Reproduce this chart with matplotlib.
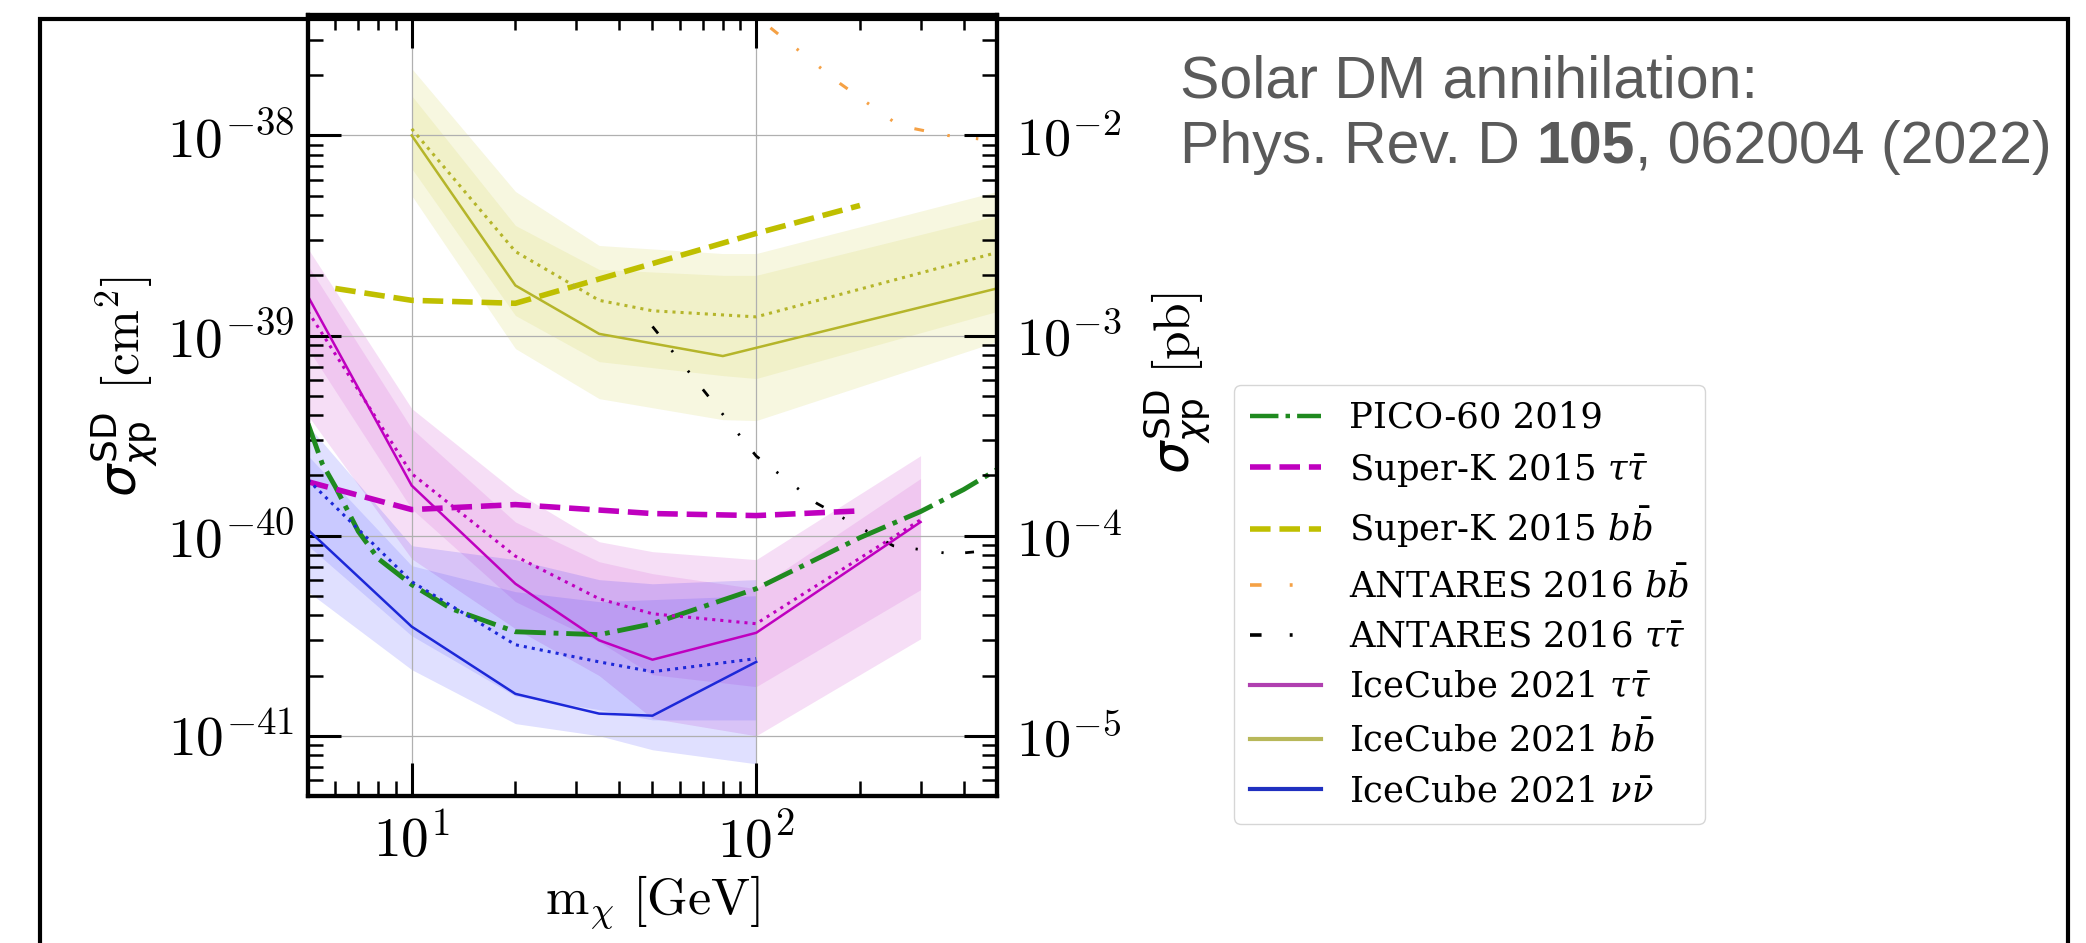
import numpy as np
import matplotlib
matplotlib.use('Agg')
import matplotlib.pyplot as plt
from matplotlib import ticker
from matplotlib.lines import Line2D
from matplotlib.patches import Rectangle

plt.rcParams['mathtext.fontset'] = 'cm'

# IceCube 2021, b bbar: limit (solid), sensitivity (dotted), 1/2 sigma bands
ic_bb_m = [10, 20, 35, 80, 500]
ic_bb_lim = [1.0e-38, 1.78e-39, 1.02e-39, 7.9e-40, 1.72e-39]
ic_bb_sens_m = [10, 20, 35, 50, 100, 500]
ic_bb_sens = [1.08e-38, 2.63e-39, 1.5e-39, 1.33e-39, 1.24e-39, 2.6e-39]
ic_bb_band_m = [10, 20, 35, 80, 100, 500]
ic_bb_2hi = [2.16e-38, 5.25e-39, 2.82e-39, 2.57e-39, 2.57e-39, 5.25e-39]
ic_bb_1hi = [1.58e-38, 3.55e-39, 2.14e-39, 2.0e-39, 2.0e-39, 3.98e-39]
ic_bb_1lo = [6.84e-39, 1.26e-39, 7.41e-40, 6.31e-40, 6.1e-40, 1.32e-39]
ic_bb_2lo = [5.01e-39, 8.61e-40, 4.84e-40, 3.8e-40, 3.76e-40, 9.33e-40]

# IceCube 2021, tau taubar
ic_tt_m = [5, 10, 20, 35, 50, 100, 300]
ic_tt_lim = [1.57e-39, 1.78e-40, 5.75e-41, 3.0e-41, 2.4e-41, 3.27e-41, 1.17e-40]
ic_tt_sens = [1.32e-39, 2.04e-40, 7.9e-41, 4.84e-41, 4.07e-41, 3.63e-41, 1.2e-40]
ic_tt_2hi = [2.72e-39, 4.32e-40, 1.66e-40, 9.33e-41, 8.32e-41, 7.59e-41, 2.51e-40]
ic_tt_1hi = [2.24e-39, 3.43e-40, 1.17e-40, 7.41e-41, 6.46e-41, 5.43e-41, 1.93e-40]
ic_tt_1lo = [8.61e-40, 1.36e-40, 4.68e-41, 2.95e-41, 2.02e-41, 1.76e-41, 5.37e-41]
ic_tt_2lo = [3.98e-40, 7.67e-41, 3.43e-41, 2.0e-41, 1.22e-41, 1.0e-41, 3.05e-41]

# IceCube 2021, nu nubar
ic_nn_m = [5, 10, 20, 35, 50, 100]
ic_nn_lim = [1.07e-40, 3.51e-41, 1.62e-41, 1.29e-41, 1.26e-41, 2.34e-41]
ic_nn_sens = [1.9e-40, 5.89e-41, 2.85e-41, 2.34e-41, 2.09e-41, 2.43e-41]
ic_nn_2hi = [3.55e-40, 8.91e-41, 7.59e-41, 6.03e-41, 5.75e-41, 6.03e-41]
ic_nn_1hi = [2.51e-40, 7.08e-41, 5.25e-41, 4.68e-41, 4.79e-41, 5.01e-41]
ic_nn_1lo = [8.91e-41, 3.16e-41, 1.58e-41, 1.35e-41, 1.2e-41, 1.2e-41]
ic_nn_2lo = [5.25e-41, 2.14e-41, 1.15e-41, 1.0e-41, 8.51e-42, 7.24e-42]

# other experiments
sk_tt_m = [5, 10, 20, 50, 100, 200]
sk_tt = [1.86e-40, 1.35e-40, 1.43e-40, 1.29e-40, 1.26e-40, 1.33e-40]
sk_bb_m = [6, 10, 20, 50, 100, 200]
sk_bb = [1.72e-39, 1.5e-39, 1.45e-39, 2.29e-39, 3.24e-39, 4.47e-39]
pico_m = [5, 5.5, 6, 7, 8, 10, 13, 20, 35, 50, 100, 200, 300, 400, 500]
pico = [3.63e-40, 2.29e-40, 1.76e-40, 1.05e-40, 7.67e-41, 5.69e-41, 4.32e-41,
        3.31e-41, 3.2e-41, 3.63e-41, 5.43e-41, 9.77e-41, 1.32e-40, 1.7e-40, 2.14e-40]
ant_bb_m = [110, 175, 260, 360, 500]
ant_bb = [3.45e-38, 1.82e-38, 1.12e-38, 1.0e-38, 9.4e-39]
ant_tt_m = [50, 100, 150, 250, 370, 500]
ant_tt = [1.11e-39, 2.5e-40, 1.45e-40, 8.9e-41, 8.1e-41, 8.5e-41]

x_ticks = [10, 100]
y_ticks = [1e-41, 1e-40, 1e-39, 1e-38]

c_mag = '#bf00bf'
c_oli = '#bfbf00'
c_blu = '#1c28d8'
c_grn = '#1f8a1f'
c_org = '#f5a145'
ant_ls = (0, (3.2, 7.8, 0.8, 8.6, 0.8, 7.8))

W, H = 2086, 943
fig = plt.figure(figsize=(W / 100, H / 100), dpi=100)
ax = fig.add_axes([308 / W, 1 - 796 / H, 689 / W, 781 / H])

# bands
ax.fill_between(ic_bb_band_m, ic_bb_2lo, ic_bb_2hi, color=c_oli, alpha=0.12, lw=0)
ax.fill_between(ic_bb_band_m, ic_bb_1lo, ic_bb_1hi, color=c_oli, alpha=0.1, lw=0)
ax.fill_between(ic_tt_m, ic_tt_2lo, ic_tt_2hi, color=c_mag, alpha=0.13, lw=0)
ax.fill_between(ic_tt_m, ic_tt_1lo, ic_tt_1hi, color=c_mag, alpha=0.1, lw=0)
ax.fill_between(ic_nn_m, ic_nn_2lo, ic_nn_2hi, color='#0000ff', alpha=0.12, lw=0)
ax.fill_between(ic_nn_m, ic_nn_1lo, ic_nn_1hi, color='#0000ff', alpha=0.1, lw=0)

# lines
ax.plot(pico_m, pico, '-.', color=c_grn, lw=3.5)
ax.plot(sk_tt_m, sk_tt, '--', color=c_mag, lw=4)
ax.plot(sk_bb_m, sk_bb, '--', color=c_oli, lw=4)
ax.plot(ant_bb_m, ant_bb, ls=ant_ls, color=c_org, lw=2.2)
ax.plot(ant_tt_m, ant_tt, ls=ant_ls, color='k', lw=2.0)
ax.plot(ic_tt_m, ic_tt_lim, '-', color=c_mag, lw=1.8)
ax.plot(ic_tt_m, ic_tt_sens, ':', color=c_mag, lw=2.2)
ax.plot(ic_bb_m, ic_bb_lim, '-', color='#b5b52a', lw=1.8)
ax.plot(ic_bb_sens_m, ic_bb_sens, ':', color='#b5b52a', lw=2.2)
ax.plot(ic_nn_m, ic_nn_lim, '-', color=c_blu, lw=1.8)
ax.plot(ic_nn_m, ic_nn_sens, ':', color=c_blu, lw=2.2)

ax.set_xscale('log')
ax.set_yscale('log')
ax.set_xlim(5, 500)
ax.set_ylim(5e-42, 4e-38)
ax.grid(True, which='major', color='#b0b0b0', lw=0.9)

logfmt = ticker.FuncFormatter(lambda v, p: r'$10^{%d}$' % round(np.log10(v)))
ax.xaxis.set_major_locator(ticker.FixedLocator(x_ticks))
ax.yaxis.set_major_locator(ticker.FixedLocator(y_ticks))
ax.xaxis.set_major_formatter(logfmt)
ax.yaxis.set_major_formatter(logfmt)
ax.tick_params(which='both', direction='in', top=True, right=False, labelsize=40)
ax.tick_params(which='major', length=24, width=2.2)
ax.tick_params(which='minor', length=11, width=1.8)
ax.tick_params(axis='y', pad=10)
ax.tick_params(axis='x', pad=14)

ax2 = ax.twinx()
ax2.set_yscale('log')
ax2.set_ylim(5e-42 * 1e36, 4e-38 * 1e36)
ax2.yaxis.set_major_locator(ticker.FixedLocator([v * 1e36 for v in y_ticks]))
ax2.yaxis.set_major_formatter(logfmt)
ax2.tick_params(which='both', direction='in', labelsize=39, pad=14)
ax2.tick_params(which='major', length=24, width=2.2)
ax2.tick_params(which='minor', length=11, width=1.8)

for a in (ax, ax2):
    for s in a.spines.values():
        s.set_linewidth(3)

ax.set_xlabel(r'$\mathrm{m}_{\chi}\ [\mathrm{GeV}]$', fontsize=37.5)
ax.xaxis.set_label_coords(0.5, -0.1)

# y labels: sigma part in sans, unit in serif
def ylab(xpx, ysig, yunit, unit):
    fig.text(xpx / W, 1 - ysig / H, r'$\sigma^{\mathrm{SD}}_{\chi\mathrm{p}}$', rotation=90,
             ha='center', va='center', fontsize=37, math_fontfamily='dejavusans')
    fig.text(xpx / W, 1 - yunit / H, unit, rotation=90,
             ha='center', va='center', fontsize=37, math_fontfamily='cm')

ylab(124, 454, 333, r'$[\mathrm{cm}^2]$')
ylab(1177, 431, 333, r'$[\mathrm{pb}]$')

handles = [
    Line2D([], [], ls='-.', color=c_grn, lw=3.2),
    Line2D([], [], ls='--', color=c_mag, lw=4),
    Line2D([], [], ls='--', color=c_oli, lw=4),
    Line2D([], [], ls=ant_ls, color=c_org, lw=2.6),
    Line2D([], [], ls=ant_ls, color='k', lw=2.6),
    Line2D([], [], ls='-', color='#b040b0', lw=3),
    Line2D([], [], ls='-', color='#b8b85a', lw=3),
    Line2D([], [], ls='-', color='#2030c0', lw=3),
]
labels = ['PICO-60 2019', r'Super-K 2015 $\tau\bar{\tau}$', r'Super-K 2015 $b\bar{b}$',
          r'ANTARES 2016 $b\bar{b}$', r'ANTARES 2016 $\tau\bar{\tau}$',
          r'IceCube 2021 $\tau\bar{\tau}$', r'IceCube 2021 $b\bar{b}$',
          r'IceCube 2021 $\nu\bar{\nu}$']
leg = fig.legend(handles, labels, loc='upper left', bbox_to_anchor=(1234 / W, 1 - 385 / H),
                 borderaxespad=0, prop={'family': 'DejaVu Serif', 'size': 25.5},
                 labelspacing=0.45, handlelength=2.0, handletextpad=0.8, borderpad=0.45)
for t in leg.get_texts():
    t.set_math_fontfamily('dejavuserif')

# reference text
fs = 42.5
grey = '#5a5a5a'
fig.text(1180 / W, 1 - 97 / H, 'Solar DM annihilation:', fontsize=fs, color=grey,
         family='Liberation Sans', va='baseline')
r = fig.canvas.get_renderer()
y2 = 1 - 163 / H
x = 1180
space = fs * 100 / 72 * 0.278
for piece, wt in [('Phys. Rev. D', 'normal'), ('105', 'bold'), (', 062004 (2022)', 'normal')]:
    tx = fig.text(x / W, y2, piece, fontsize=fs, color=grey, family='Liberation Sans',
                  weight=wt, va='baseline')
    x = tx.get_window_extent(r).x1 + (space if piece.startswith('Phys') else 0)

# outer frame
fig.add_artist(Rectangle((40 / W, -0.02), 2028 / W, 1.0, transform=fig.transFigure,
                         fill=False, ec='k', lw=3, clip_on=False))

fig.savefig('out.png', dpi=100)
